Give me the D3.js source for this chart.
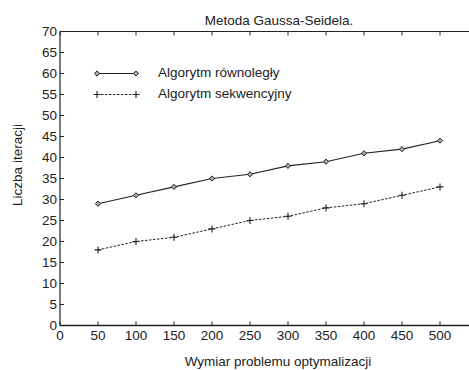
<!DOCTYPE html>
<html><head><meta charset="utf-8">
<script src="https://cdn.jsdelivr.net/npm/d3@7"></script>
<style>body{margin:0;background:#fff}svg{display:block}text{font-family:"Liberation Sans",Arial,sans-serif;fill:#222}</style>
</head><body><div id="c"></div>
<script>
const sizes = [50,100,150,200,250,300,350,400,450,500];
const parallel = [29,31,33,35,36,38,39,41,42,44];
const sequential = [18,20,21,23,25,26,28,29,31,33];
const xTicks = [0,50,100,150,200,250,300,350,400,450,500];
const yTicks = [0,5,10,15,20,25,30,35,40,45,50,55,60,65,70];
const seriesNames = ["Algorytm równoległy","Algorytm sekwencyjny"];
const title = "Metoda Gaussa-Seidela.";
const xLabel = "Wymiar problemu optymalizacji";
const yLabel = "Liczba iteracji";

const W=469,H=370,FS=13.5;
const svg=d3.select("#c").append("svg").attr("width",W).attr("height",H);
const x=d3.scaleLinear().domain([0,550]).range([60,478]);
const y=d3.scaleLinear().domain([0,70]).range([325.5,31.5]);
const col="#222";

const g=svg.append("g");
g.append("line").attr("x1",60).attr("x2",478).attr("y1",y(70)).attr("y2",y(70)).attr("stroke",col).attr("stroke-width",1.2);
g.append("line").attr("x1",60).attr("x2",60).attr("y1",y(0)).attr("y2",y(70)).attr("stroke",col).attr("stroke-width",1.2);
g.append("line").attr("x1",60).attr("x2",478).attr("y1",y(0)).attr("y2",y(0)).attr("stroke",col).attr("stroke-width",1.6);

xTicks.forEach(t=>{
  g.append("line").attr("x1",x(t)).attr("x2",x(t)).attr("y1",y(0)).attr("y2",y(0)-4).attr("stroke",col);
  g.append("line").attr("x1",x(t)).attr("x2",x(t)).attr("y1",y(70)).attr("y2",y(70)+4).attr("stroke",col);
  g.append("text").attr("x",x(t)).attr("y",339.5).attr("text-anchor","middle").attr("font-size",FS).text(t);
});
yTicks.forEach(t=>{
  g.append("line").attr("x1",60).attr("x2",64).attr("y1",y(t)).attr("y2",y(t)).attr("stroke",col);
  g.append("text").attr("x",57).attr("y",y(t)+4.8).attr("text-anchor","end").attr("font-size",FS).text(t);
});

const line=d3.line().x((d,i)=>x(sizes[i])).y(d=>y(d));
svg.append("path").attr("d",line(parallel)).attr("fill","none").attr("stroke",col).attr("stroke-width",1.1);
svg.append("path").attr("d",line(sequential)).attr("fill","none").attr("stroke",col).attr("stroke-width",1).attr("stroke-dasharray","2.5,1.5");

function diamond(sel,cx,cy){
  sel.append("path").attr("d",`M${cx},${cy-2.6}L${cx+2.6},${cy}L${cx},${cy+2.6}L${cx-2.6},${cy}Z`)
    .attr("fill","#aaa").attr("stroke",col).attr("stroke-width",1);
}
function plus(sel,cx,cy){
  sel.append("path").attr("d",`M${cx-3.5},${cy}H${cx+3.5}M${cx},${cy-3.5}V${cy+3.5}`).attr("stroke",col).attr("stroke-width",1.1);
}
parallel.forEach((v,i)=>diamond(svg,x(sizes[i]),y(v)));
sequential.forEach((v,i)=>plus(svg,x(sizes[i]),y(v)));

const ly1=y(60), ly2=y(55);
svg.append("line").attr("x1",97).attr("x2",136).attr("y1",ly1).attr("y2",ly1).attr("stroke",col).attr("stroke-width",1.1);
diamond(svg,97,ly1);diamond(svg,136,ly1);
svg.append("line").attr("x1",97).attr("x2",136).attr("y1",ly2).attr("y2",ly2).attr("stroke",col).attr("stroke-dasharray","2.5,1.5");
plus(svg,97,ly2);plus(svg,136,ly2);
svg.append("text").attr("x",158).attr("y",ly1+3.5).attr("font-size",FS).text(seriesNames[0]);
svg.append("text").attr("x",158).attr("y",ly2+3.5).attr("font-size",FS).text(seriesNames[1]);

svg.append("text").attr("x",279).attr("y",25).attr("text-anchor","middle").attr("font-size",FS).text(title);
svg.append("text").attr("x",278).attr("y",365.5).attr("text-anchor","middle").attr("font-size",FS).text(xLabel);
svg.append("text").attr("transform","translate(22,165) rotate(-90)").attr("text-anchor","middle").attr("font-size",FS).text(yLabel);
</script></body></html>
